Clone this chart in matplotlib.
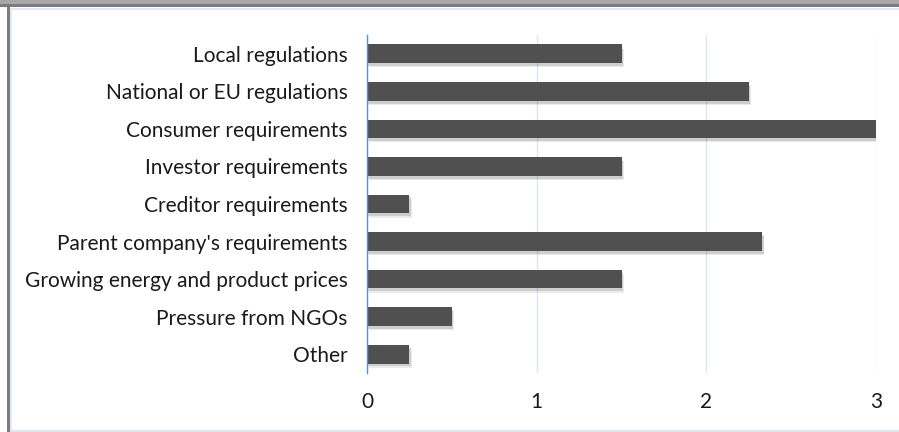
import numpy as np
import matplotlib
matplotlib.use('Agg')
import matplotlib.pyplot as plt
import matplotlib.patheffects as pe
from matplotlib.patches import Rectangle

plt.rcParams['font.family'] = ['Lato', 'DejaVu Sans']

categorias = ['Local regulations', 'National or EU regulations', 'Consumer requirements',
              'Investor requirements', 'Creditor requirements', "Parent company's requirements",
              'Growing energy and product prices', 'Pressure from NGOs', 'Other']
valores = [1.5, 2.25, 3.0, 1.5, 0.25, 2.33, 1.5, 0.5, 0.25]
ticks_x = [0, 1, 2, 3]

fig = plt.figure(figsize=(8.99, 4.32), dpi=100)
W, H = 899, 432

# marco del grafico
fig.patches.append(Rectangle((0, 1 - 7 / H), 1, 7 / H, transform=fig.transFigure,
                             facecolor='#a8a8a8', edgecolor='none', zorder=0))
fig.patches.append(Rectangle((0, 1 - 7 / H), 1, 3 / H, transform=fig.transFigure,
                             facecolor='#7c7c7c', edgecolor='none', zorder=0))
fig.patches.append(Rectangle((7 / W, 0), 3 / W, 1 - 4 / H, transform=fig.transFigure,
                             facecolor='#7c7c7c', edgecolor='none', zorder=0))
fig.lines.append(plt.Line2D([10.5 / W, 1], [1 - 8.5 / H, 1 - 8.5 / H], transform=fig.transFigure,
                            color='#dce6f2', lw=1.2))
fig.lines.append(plt.Line2D([10.5 / W, 10.5 / W], [0, 1 - 8.5 / H], transform=fig.transFigure,
                            color='#dce6f2', lw=1.2))
fig.lines.append(plt.Line2D([10.5 / W, 1], [1.5 / H, 1.5 / H], transform=fig.transFigure,
                            color='#dce6f2', lw=1.5))

ax = fig.add_axes([367 / W, 1 - 373 / H, (876 - 367) / W, (373 - 35) / H])

y = np.arange(len(categorias))
barras = ax.barh(y, valores, height=0.5, color='#505050', zorder=3)
for b in barras:
    b.set_path_effects([pe.SimplePatchShadow(offset=(1.5, -3), shadow_rgbFace='#000000', alpha=0.08),
                        pe.SimplePatchShadow(offset=(1, -2), shadow_rgbFace='#000000', alpha=0.12),
                        pe.Normal()])

ax.set_yticks(y)
ax.set_yticklabels(categorias)
ax.set_ylim(len(categorias) - 0.5, -0.5)
ax.set_xlim(0, 3)
ax.set_xticks(ticks_x)
ax.set_xticklabels([str(t) for t in ticks_x])

ax.grid(axis='x', color='#dce6f2', lw=1, zorder=0)
ax.tick_params(axis='both', length=0, labelsize=15, colors='#1a1a1a')
ax.tick_params(axis='x', pad=14)
ax.tick_params(axis='y', pad=14)
for s in ['top', 'right', 'bottom']:
    ax.spines[s].set_visible(False)
ax.spines['left'].set_color('#5b8fd0')
ax.spines['left'].set_linewidth(1)
ax.spines['left'].set_zorder(4)

fig.savefig('out.png', dpi=100)
